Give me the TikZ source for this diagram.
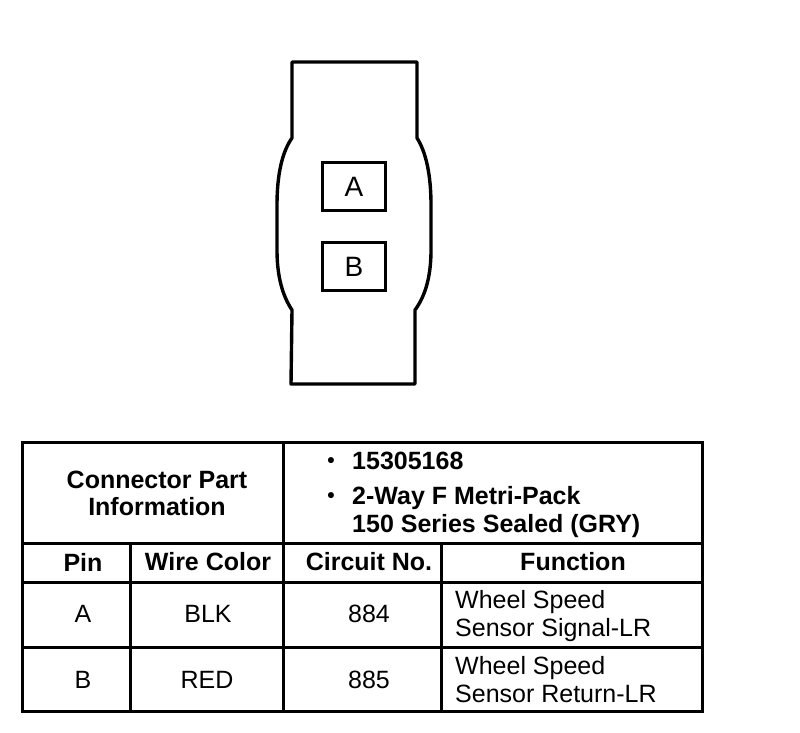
\documentclass[tikz,border=0pt]{standalone}
\usepackage{fontspec}
\setmainfont{Liberation Sans}
\usetikzlibrary{positioning}
\tikzstyle{outline} = [line width=3.4pt, line join=round, draw=black]
\tikzstyle{rule} = [line width=3pt, line cap=rect, draw=black]
\tikzstyle{pinbox} = [rectangle, minimum width=63pt, minimum height=48pt, inner sep=0pt, line width=2.8pt, draw=black, font=\fontsize{28}{30}\selectfont]
\tikzstyle{head} = [inner sep=0pt, align=center, font=\fontsize{25}{27}\selectfont\bfseries]
\tikzstyle{cell} = [inner sep=0pt, align=center, font=\fontsize{25}{27}\selectfont]
\tikzstyle{funcell} = [inner sep=0pt, align=left, anchor=west, font=\fontsize{25}{28}\selectfont]
\tikzstyle{partline} = [inner sep=0pt, align=left, anchor=west, font=\fontsize{25}{28}\selectfont\bfseries]
\tikzstyle{partdot} = [inner sep=0pt, font=\fontsize{21}{21}\selectfont\bfseries]

\begin{document}
\begin{tikzpicture}[x=1pt, y=-1pt, node distance=80pt]
    \useasboundingbox (0,0) rectangle (800,732);

    % connector body
    \draw [outline] (292,62) -- (417,62) -- (417,138)
        .. controls (426,152) and (431,175) .. (431,205) -- (431,250)
        .. controls (431,275) and (426,295) .. (415,310) -- (415,384) -- (291,384) -- (292,310)
        .. controls (282,295) and (277,275) .. (277,250) -- (277,205)
        .. controls (277,175) and (282,152) .. (292,138) -- cycle;
    \node (cavA) [pinbox] at (354,186.5) {A};
    \node (cavB) [pinbox, below of=cavA] {B};

    % table rules
    \draw [rule] (22,442) rectangle (702,711);
    \draw [rule] (22,543) -- (702,543);
    \draw [rule] (22,582) -- (702,582);
    \draw [rule] (22,647) -- (702,647);
    \draw [rule] (283,442) -- (283,711);
    \draw [rule] (130,543) -- (130,711);
    \draw [rule] (441,543) -- (441,711);

    % part information
    \node (partinfo) [head] at (157,493) {Connector Part\\Information};
    \node (bulletA) [partdot] at (331,463) {•};
    \node (partno) [partline] at (352,461) {15305168};
    \node (bulletB) [partdot] at (331,498) {•};
    \node (parttype) [partline] at (352,512) {2-Way F Metri-Pack\\150 Series Sealed (GRY)};

    % column heads
    \node (pinhead) [head] at (83,562) {Pin};
    \node (wirehead) [head] at (208,562) {Wire Color};
    \node (circhead) [head] at (369,562) {Circuit No.};
    \node (funchead) [head] at (573,562) {Function};

    % rows
    \node (pinA) [cell] at (83,614) {A};
    \node (wireA) [cell] at (208,614) {BLK};
    \node (circA) [cell] at (369,614) {884};
    \node (funcA) [funcell] at (455,616) {Wheel Speed\\Sensor Signal-LR};
    \node (pinB) [cell] at (83,680) {B};
    \node (wireB) [cell] at (207,680) {RED};
    \node (circB) [cell] at (369,680) {885};
    \node (funcB) [funcell] at (455,680) {Wheel Speed\\Sensor Return-LR};
\end{tikzpicture}
\end{document}
